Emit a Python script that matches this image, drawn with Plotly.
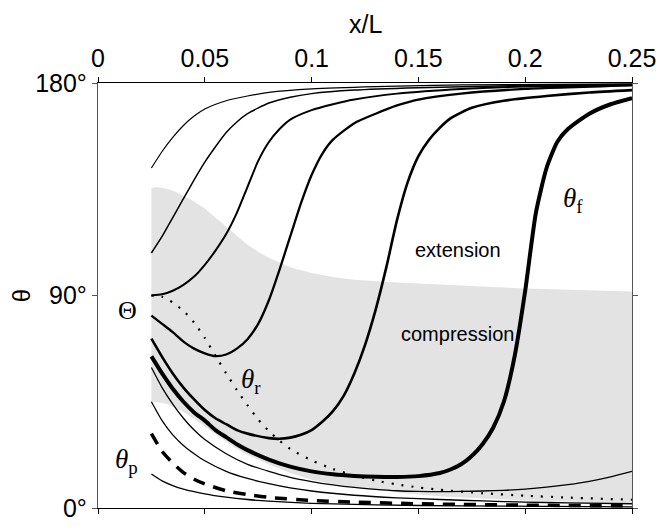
import plotly.graph_objects as go

# ---------------- data ----------------
x_c1 = [0.025, 0.03, 0.035, 0.04, 0.045, 0.05, 0.06, 0.07, 0.08, 0.1, 0.13, 0.17, 0.25]
y_c1 = [144, 151, 157, 162, 166, 169, 172.5, 174.5, 176, 177.5, 178.5, 179.2, 179.6]

x_c2 = [0.025, 0.03, 0.035, 0.04, 0.045, 0.05, 0.055, 0.06, 0.065, 0.07, 0.08, 0.09, 0.1, 0.12, 0.15, 0.2, 0.25]
y_c2 = [108, 115, 123, 131, 139, 146.5, 153, 159, 163.5, 167, 171.5, 174, 175.5, 177, 178, 179, 179.4]

x_c3 = [0.025, 0.03, 0.035, 0.04, 0.045, 0.05, 0.055, 0.06, 0.065, 0.07, 0.075, 0.08, 0.085, 0.09, 0.1, 0.11, 0.12, 0.14, 0.17, 0.2, 0.25]
y_c3 = [90, 90.5, 92, 94.5, 98, 103, 109, 116, 125, 136, 147, 155, 160.5, 164.5, 168.5, 171, 173, 175.5, 177.5, 178.5, 179.2]

x_c4 = [0.025, 0.03, 0.035, 0.04, 0.045, 0.05, 0.055, 0.06, 0.065, 0.07, 0.075, 0.08, 0.085, 0.09, 0.095, 0.1, 0.105, 0.11, 0.12, 0.13, 0.14, 0.15, 0.17, 0.2, 0.25]
y_c4 = [81.5, 78, 74.5, 70.5, 67.5, 65.5, 64.3, 65, 67.5, 71.5, 78, 88, 101, 115, 129, 141, 150, 156, 163, 167, 170.5, 173, 175.5, 177.5, 179]

x_c5 = [0.025, 0.03, 0.035, 0.04, 0.045, 0.05, 0.055, 0.06, 0.065, 0.07, 0.08, 0.085, 0.09, 0.095, 0.1, 0.105, 0.11, 0.115, 0.12, 0.125, 0.13, 0.135, 0.14, 0.145, 0.15, 0.155, 0.16, 0.165, 0.175, 0.19, 0.21, 0.23, 0.25]
y_c5 = [71.7, 64, 57, 51, 46, 41.5, 38, 35.5, 33, 31.5, 29.6, 29.3, 29.8, 31, 33, 36.5, 41, 47.5, 57, 69, 84, 102, 122, 138, 149, 156, 161, 165, 169.5, 172.5, 174.5, 176, 177]

x_f = [0.025, 0.03, 0.035, 0.04, 0.045, 0.05, 0.055, 0.06, 0.065, 0.07, 0.08, 0.09, 0.1, 0.11, 0.12, 0.13, 0.14, 0.15, 0.16, 0.165, 0.17, 0.175, 0.18, 0.185, 0.19, 0.195, 0.2, 0.205, 0.21, 0.215, 0.22, 0.23, 0.24, 0.25]
y_f = [64.2, 57, 50.5, 45, 40.5, 37, 33, 30, 27, 24.5, 20.5, 17.5, 15.5, 14.3, 13.6, 13.2, 13.1, 13.5, 14.8, 16.3, 18.5, 22, 27, 34, 45, 64, 92, 125, 144, 155, 160.5, 167, 171, 173.6]

x_c7 = [0.025, 0.03, 0.035, 0.04, 0.045, 0.05, 0.06, 0.07, 0.08, 0.09, 0.1, 0.11, 0.12, 0.13, 0.14, 0.15, 0.16, 0.17, 0.18, 0.19, 0.2, 0.21, 0.22, 0.23, 0.24, 0.25]
y_c7 = [59.5, 51, 44, 38, 33, 29, 23, 18.5, 15.5, 13, 11.2, 9.8, 8.7, 7.9, 7.3, 7, 6.9, 7, 7.2, 7.5, 8, 8.8, 9.9, 11.3, 13.2, 15.5]

x_c8 = [0.025, 0.03, 0.035, 0.04, 0.045, 0.05, 0.06, 0.07, 0.08, 0.09, 0.1, 0.12, 0.14, 0.16, 0.18, 0.2, 0.22, 0.25]
y_c8 = [45, 37, 31, 26.5, 23, 20, 15.5, 12.5, 10.3, 8.5, 7.2, 5.4, 4.3, 3.6, 3, 2.5, 2.2, 1.8]

x_p = [0.025, 0.03, 0.035, 0.04, 0.045, 0.05, 0.06, 0.07, 0.08, 0.1, 0.12, 0.15, 0.2, 0.25]
y_p = [31.5, 24, 19, 15, 12.2, 10.2, 7.3, 5.7, 4.5, 3.2, 2.5, 1.8, 1.2, 0.9]

x_c10 = [0.025, 0.03, 0.035, 0.04, 0.05, 0.06, 0.07, 0.08, 0.1, 0.13, 0.17, 0.25]
y_c10 = [14.4, 11.5, 9.5, 8, 6, 4.6, 3.6, 2.9, 2, 1.3, 0.9, 0.5]

x_r = [0.025, 0.03, 0.035, 0.04, 0.045, 0.05, 0.055, 0.06, 0.065, 0.07, 0.075, 0.08, 0.085, 0.09, 0.1, 0.11, 0.12, 0.13, 0.14, 0.15, 0.16, 0.18, 0.2, 0.22, 0.25]
y_r = [90, 89.5, 87, 83.5, 78.5, 72, 64.5, 57, 50, 43.5, 37.5, 32.5, 28.5, 25, 20.2, 16.5, 13.8, 11.6, 10, 8.7, 7.7, 6.3, 5.2, 4.4, 3.5]

# compression (grey) region boundaries
x_reg = [0.025, 0.027, 0.03, 0.033, 0.036, 0.04, 0.045, 0.05, 0.055, 0.06, 0.065, 0.07, 0.075, 0.08, 0.09, 0.1, 0.11, 0.12, 0.14, 0.16, 0.18, 0.2, 0.22, 0.25]
reg_upper = [135.5, 135.8, 135.6, 135, 134, 132.2, 129.8, 126.8, 123, 119, 115, 111.5, 108.5, 106, 102, 99.5, 97.8, 96.7, 95.5, 94.5, 93.8, 93, 92.5, 91.7]
reg_lower = [45, 45, 44.6, 43.8, 42.6, 40.7, 37.8, 34.5, 31.2, 28, 25, 22.5, 20.4, 18.4, 14.8, 12, 10.2, 8.8, 6.6, 5, 4, 3.2, 2.6, 2]

x_ticks = [0, 0.05, 0.1, 0.15, 0.2, 0.25]
x_ticklabels = ["0", "0.05", "0.1", "0.15", "0.2", "0.25"]
y_ticks = [0, 90, 180]
y_ticklabels = ["0°", "90°", "180°"]

# ---------------- figure ----------------
fig = go.Figure()

fig.add_trace(go.Scatter(
    x=x_reg + x_reg[::-1], y=reg_upper + reg_lower[::-1],
    fill="toself", fillcolor="#e3e3e3", mode="lines",
    line=dict(width=0, color="#e3e3e3"),
    hoverinfo="skip", showlegend=False))

curves = [
    (x_c1, y_c1, 1.2, "solid"),
    (x_c2, y_c2, 1.5, "solid"),
    (x_c3, y_c3, 2.0, "solid"),
    (x_c4, y_c4, 2.3, "solid"),
    (x_c5, y_c5, 2.6, "solid"),
    (x_f, y_f, 4.0, "solid"),
    (x_c7, y_c7, 1.3, "solid"),
    (x_c8, y_c8, 1.3, "solid"),
    (x_c10, y_c10, 1.3, "solid"),
    (x_p, y_p, 3.5, "12px,9px"),
    (x_r, y_r, 2.2, "2px,8px"),
]
for xs, ys, w, d in curves:
    fig.add_trace(go.Scatter(
        x=xs, y=ys, mode="lines",
        line=dict(color="black", width=w, dash=d, shape="spline", smoothing=0.6),
        hoverinfo="skip", showlegend=False))

serif = "Liberation Serif, Times New Roman, serif"
sans = "Liberation Sans, Arial, sans-serif"
annotations = [
    dict(x=0.014, y=83.5, text="Θ", font=dict(family=serif, size=26)),
    dict(x=0.0715, y=54, text="<i>θ</i><sub>r</sub>", font=dict(family=serif, size=27)),
    dict(x=0.0135, y=20, text="<i>θ</i><sub>p</sub>", font=dict(family=serif, size=27)),
    dict(x=0.2225, y=130.5, text="<i>θ</i><sub>f</sub>", font=dict(family=serif, size=27)),
    dict(x=0.1685, y=109.3, text="extension", font=dict(family=sans, size=20)),
    dict(x=0.1685, y=73.8, text="compression", font=dict(family=sans, size=20)),
]
for a in annotations:
    a.update(xref="x", yref="y", showarrow=False, xanchor="center", yanchor="middle")
annotations.append(dict(xref="paper", yref="paper", x=0.5, y=1.14, text="x/L",
                        showarrow=False, font=dict(family=sans, size=25, color="black"),
                        xanchor="center", yanchor="middle"))
annotations.append(dict(xref="paper", yref="paper", x=-0.143, y=0.5, text="θ",
                        textangle=-90, showarrow=False,
                        font=dict(family=sans, size=24, color="black"),
                        xanchor="center", yanchor="middle"))

fig.update_layout(
    width=669, height=530,
    margin=dict(l=98, r=37, t=83, b=8),
    plot_bgcolor="white", paper_bgcolor="white",
    font=dict(family=sans, color="black"),
    annotations=annotations,
    xaxis=dict(range=[0, 0.25], side="top", tickvals=x_ticks, ticktext=x_ticklabels,
               ticks="outside", ticklen=5, tickcolor="black", tickwidth=1,
               showline=True, linecolor="black", linewidth=1.3, mirror="ticks",
               showgrid=False, zeroline=False, tickfont=dict(size=25, family=sans)),
    yaxis=dict(range=[0, 180], tickvals=y_ticks, ticktext=y_ticklabels,
               ticks="outside", ticklen=5, tickcolor="#555", tickwidth=1,
               showline=True, linecolor="#555", linewidth=1.3, mirror="ticks",
               showgrid=False, zeroline=False, tickfont=dict(size=25, family=sans)),
)

fig.write_html("out.html")
